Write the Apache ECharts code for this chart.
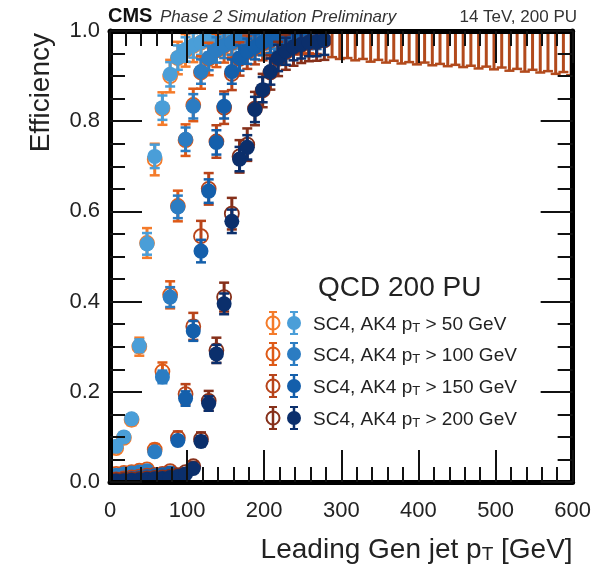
<!DOCTYPE html>
<html><head><meta charset="utf-8">
<script src="https://cdn.jsdelivr.net/npm/echarts@6/dist/echarts.min.js"></script>
<style>html,body{margin:0;padding:0;background:#fff}#c{width:594px;height:566px}</style>
</head><body><div id="c"></div>
<script>
// ---------------- data ----------------
const xTicks = [0, 100, 200, 300, 400, 500, 600];
const yTicks = [0.0, 0.2, 0.4, 0.6, 0.8, 1.0];
const legendLabels = ['50', '100', '150', '200'];

// AK4 pT > 50 GeV
const xs1  = [8,18,28,38,48,58,68,78,88,98,108,118,128,138,148,158,168,178,188,198,208,218,228,238,248];
const ak1  = [0.079,0.100,0.140,0.302,0.528,0.722,0.830,0.904,0.941,0.959,0.968,0.975,0.980,0.983,0.985,0.988,0.990,0.990,0.991,0.992,0.992,0.993,0.993,0.994,0.994];
const sc1  = [0.075,0.098,0.138,0.300,0.530,0.715,0.828,0.900,0.940,0.957,0.967,0.974,0.978,0.982,0.985,0.987,0.989,0.990,0.990,0.991,0.992,0.992,0.993,0.993,0.994];
const esc1 = [0.010,0.010,0.012,0.020,0.033,0.035,0.036,0.036,0.036,0.036,0.036,0.036,0.037,0.037,0.037,0.038,0.038,0.038,0.039,0.040,0.040,0.040,0.041,0.042,0.042];
const eak1 = [0.006,0.006,0.008,0.014,0.024,0.026,0.027,0.027,0.027,0.027,0.027,0.028,0.028,0.028,0.028,0.029,0.029,0.029,0.030,0.030,0.030,0.031,0.031,0.032,0.032];

// pT > 100 GeV
const xs2  = [8,18,28,38,48,58,68,78,88,98,108,118,128,138,148,158,168,178,188,198,208,218,228,238,248,258];
const ak2  = [0.015,0.018,0.020,0.022,0.025,0.067,0.233,0.410,0.610,0.760,0.833,0.910,0.940,0.958,0.968,0.975,0.980,0.983,0.986,0.988,0.990,0.990,0.991,0.992,0.992,0.993];
const sc2  = [0.018,0.020,0.022,0.025,0.028,0.072,0.245,0.415,0.612,0.758,0.836,0.908,0.938,0.957,0.967,0.974,0.979,0.983,0.985,0.987,0.989,0.990,0.991,0.991,0.992,0.993];
const esc2 = [0.008,0.008,0.008,0.008,0.009,0.012,0.020,0.030,0.034,0.035,0.036,0.036,0.036,0.037,0.037,0.037,0.038,0.038,0.038,0.039,0.039,0.040,0.040,0.041,0.041,0.042];
const eak2 = [0.005,0.005,0.005,0.005,0.006,0.008,0.014,0.022,0.025,0.026,0.027,0.027,0.027,0.028,0.028,0.028,0.028,0.029,0.029,0.029,0.030,0.030,0.030,0.031,0.031,0.032];

// pT > 150 GeV
const xs3  = [8,18,28,38,48,58,68,78,88,98,108,118,128,138,148,158,168,178,188,198,208,218,228,238,248,258,268];
const ak3  = [0.004,0.006,0.008,0.010,0.012,0.014,0.016,0.020,0.092,0.185,0.335,0.512,0.645,0.753,0.833,0.910,0.940,0.955,0.965,0.975,0.980,0.984,0.986,0.988,0.990,0.991,0.992];
const sc3  = [0.006,0.008,0.010,0.012,0.014,0.016,0.018,0.024,0.098,0.195,0.345,0.545,0.650,0.755,0.830,0.905,0.938,0.953,0.964,0.973,0.979,0.983,0.986,0.988,0.989,0.990,0.991];
const esc3 = [0.006,0.006,0.006,0.007,0.007,0.007,0.008,0.009,0.014,0.022,0.030,0.034,0.035,0.036,0.036,0.036,0.037,0.037,0.038,0.038,0.039,0.039,0.040,0.040,0.041,0.041,0.042];
const eak3 = [0.004,0.004,0.004,0.005,0.005,0.005,0.006,0.006,0.010,0.016,0.022,0.025,0.026,0.027,0.027,0.027,0.028,0.028,0.028,0.029,0.029,0.029,0.030,0.030,0.031,0.031,0.032];

// pT > 200 GeV
const xs4  = [8,18,28,38,48,58,68,78,88,98,108,118,128,138,148,158,168,178,188,198,208,218,228,238,248,258,268,278];
const ak4  = [0.002,0.003,0.004,0.005,0.006,0.007,0.008,0.010,0.012,0.018,0.030,0.090,0.174,0.284,0.395,0.578,0.716,0.742,0.826,0.870,0.910,0.940,0.955,0.965,0.970,0.975,0.976,0.980];
const sc4  = [0.004,0.005,0.006,0.007,0.008,0.009,0.010,0.012,0.015,0.022,0.035,0.095,0.180,0.292,0.410,0.595,0.722,0.748,0.828,0.868,0.908,0.938,0.953,0.963,0.969,0.974,0.976,0.979];
const esc4 = [0.005,0.005,0.005,0.005,0.005,0.006,0.006,0.006,0.007,0.008,0.010,0.015,0.022,0.028,0.032,0.035,0.036,0.036,0.037,0.037,0.038,0.038,0.039,0.040,0.040,0.041,0.042,0.043];
const eak4 = [0.003,0.003,0.003,0.003,0.003,0.004,0.004,0.004,0.005,0.006,0.007,0.011,0.016,0.020,0.023,0.026,0.027,0.027,0.028,0.028,0.029,0.029,0.030,0.030,0.031,0.031,0.032,0.033];

// high-pT plateau (SC4): efficiency at 1.0, lower error bars
const xsHi = [288,298,308,318,328,338,348,358,368,378,388,398,408,418,428,438,448,458,468,478,488,498,508,518,528,538,548,558,568,578,588,598];
const scHi = [1.0,1.0,1.0,1.0,1.0,1.0,1.0,1.0,1.0,1.0,1.0,1.0,1.0,1.0,1.0,1.0,1.0,1.0,1.0,1.0,1.0,1.0,1.0,1.0,1.0,1.0,1.0,1.0,1.0,1.0,1.0,1.0];
const eHi  = [0.058,0.062,0.060,0.065,0.062,0.068,0.064,0.070,0.066,0.072,0.069,0.074,0.070,0.076,0.073,0.078,0.075,0.080,0.077,0.083,0.079,0.085,0.081,0.088,0.084,0.090,0.086,0.092,0.089,0.095,0.091,0.098];

// ---------------- styles ----------------
const FONT = "'Liberation Sans', Arial, Helvetica, sans-serif";
const SC_COL = ['#f47b2a', '#de5a17', '#b8441a', '#86301a'];
const AK_COL = ['#4a9ed8', '#2b7cc2', '#145fab', '#0b2f6c'];
const HI_COL = '#b24a1c';

function errSeries(name, xs, ys, es, color, filled) {
  return {
    type: 'custom', name, clip: true,
    data: xs.map((x, i) => [x, ys[i], es[i]]),
    renderItem(params, api) {
      const x = api.value(0), y = api.value(1), e = api.value(2);
      const p = api.coord([x, y]);
      const lo = api.coord([x, y - e]);
      const hi = api.coord([x, y + e]);
      const cw = 5;
      const ch = [
        {type: 'line', shape: {x1: p[0], y1: lo[1], x2: p[0], y2: hi[1]}, style: {stroke: color, lineWidth: 3}},
        {type: 'line', shape: {x1: p[0] - cw, y1: lo[1], x2: p[0] + cw, y2: lo[1]}, style: {stroke: color, lineWidth: 2.5}},
        {type: 'line', shape: {x1: p[0] - cw, y1: hi[1], x2: p[0] + cw, y2: hi[1]}, style: {stroke: color, lineWidth: 2.5}}
      ];
      if (y < 1) {
        ch.push(filled
          ? {type: 'circle', shape: {cx: p[0], cy: p[1], r: 7.5}, style: {fill: color}}
          : {type: 'circle', shape: {cx: p[0], cy: p[1], r: 7}, style: {fill: 'none', stroke: color, lineWidth: 1.8}});
      }
      return {type: 'group', children: ch};
    }
  };
}

const series = [
  errSeries('SC4 >50', xs1, sc1, esc1, SC_COL[0], false),
  errSeries('AK4 >50', xs1, ak1, eak1, AK_COL[0], true),
  errSeries('SC4 >100', xs2, sc2, esc2, SC_COL[1], false),
  errSeries('AK4 >100', xs2, ak2, eak2, AK_COL[1], true),
  errSeries('SC4 >150', xs3, sc3, esc3, SC_COL[2], false),
  errSeries('AK4 >150', xs3, ak3, eak3, AK_COL[2], true),
  errSeries('SC4 >200', xs4, sc4, esc4, SC_COL[3], false),
  errSeries('AK4 >200', xs4, ak4, eak4, AK_COL[3], true),
  errSeries('SC4 high pT', xsHi, scHi, eHi, HI_COL, false)
];

const axisBase = {
  type: 'value', z: 10,
  axisLine: {show: true, onZero: false, lineStyle: {color: '#000', width: 5}},
  axisTick: {show: true, inside: true, length: 32, lineStyle: {color: '#111', width: 2}},
  minorTick: {show: true, length: 15, lineStyle: {color: '#111', width: 2}},
  splitLine: {show: false}, minorSplitLine: {show: false}
};

const xLabel = {fontSize: 22, color: '#222', fontFamily: FONT, margin: 18};
const yLabel = {fontSize: 22, color: '#222', fontFamily: FONT, margin: 10, formatter: v => v.toFixed(1)};

// legend graphics
const legendRowY = [323, 354, 386, 418];
const legendEls = [];
legendLabels.forEach((lab, i) => {
  const y = legendRowY[i];
  const oc = SC_COL[i], bc = AK_COL[i];
  legendEls.push(
    {type: 'line', shape: {x1: 273, y1: y - 11, x2: 273, y2: y + 11}, style: {stroke: oc, lineWidth: 2.5}},
    {type: 'line', shape: {x1: 269, y1: y - 11, x2: 277, y2: y - 11}, style: {stroke: oc, lineWidth: 2}},
    {type: 'line', shape: {x1: 269, y1: y + 11, x2: 277, y2: y + 11}, style: {stroke: oc, lineWidth: 2}},
    {type: 'circle', shape: {cx: 273, cy: y, r: 6.5}, style: {fill: 'none', stroke: oc, lineWidth: 2}},
    {type: 'line', shape: {x1: 294, y1: y - 11, x2: 294, y2: y + 11}, style: {stroke: bc, lineWidth: 2.5}},
    {type: 'line', shape: {x1: 290, y1: y - 11, x2: 298, y2: y - 11}, style: {stroke: bc, lineWidth: 2}},
    {type: 'line', shape: {x1: 290, y1: y + 11, x2: 298, y2: y + 11}, style: {stroke: bc, lineWidth: 2}},
    {type: 'circle', shape: {cx: 294, cy: y, r: 7}, style: {fill: bc}},
    {type: 'text', x: 313, y: y, style: {
      text: '{a|SC4, AK4 p}{s|T}{a| > ' + lab + ' GeV}', verticalAlign: 'middle',
      rich: {
        a: {fontSize: 19, fontFamily: FONT, fill: '#222', verticalAlign: 'bottom', lineHeight: 23},
        s: {fontSize: 13, fontFamily: FONT, fill: '#222', verticalAlign: 'bottom', lineHeight: 13}
      }}}
  );
});

const option = {
  animation: false,
  backgroundColor: '#fff',
  grid: {left: 110, right: 18, top: 31, bottom: 84, containLabel: false},
  xAxis: [
    Object.assign({}, axisBase, {
      position: 'bottom', min: xTicks[0], max: xTicks[xTicks.length - 1], interval: 100,
      minorTick: Object.assign({}, axisBase.minorTick, {splitNumber: 5}),
      axisLabel: xLabel,
      name: '{a|Leading Gen jet p}{s|T}{a| [GeV]}', nameLocation: 'end', nameGap: 0,
      nameTextStyle: {align: 'right', verticalAlign: 'top', padding: [48, 0, 0, 0],
        rich: {
          a: {fontSize: 28, fontFamily: FONT, color: '#222', verticalAlign: 'bottom', lineHeight: 34},
          s: {fontSize: 19, fontFamily: FONT, color: '#222', verticalAlign: 'bottom', lineHeight: 19}
        }}
    }),
    Object.assign({}, axisBase, {
      position: 'top', min: xTicks[0], max: xTicks[xTicks.length - 1], interval: 100,
      minorTick: Object.assign({}, axisBase.minorTick, {splitNumber: 5}),
      axisLabel: {show: false}
    })
  ],
  yAxis: [
    Object.assign({}, axisBase, {
      position: 'left', min: yTicks[0], max: yTicks[yTicks.length - 1], interval: 0.2,
      minorTick: Object.assign({}, axisBase.minorTick, {splitNumber: 4}),
      axisLabel: yLabel
    }),
    Object.assign({}, axisBase, {
      position: 'right', min: yTicks[0], max: yTicks[yTicks.length - 1], interval: 0.2,
      minorTick: Object.assign({}, axisBase.minorTick, {splitNumber: 4}),
      axisLabel: {show: false}
    })
  ],
  graphic: [
    {type: 'text', x: 108, y: 26, style: {text: 'CMS', fontSize: 20, fontWeight: 'bold', fontFamily: FONT, fill: '#111', verticalAlign: 'bottom'}},
    {type: 'text', x: 160, y: 26, style: {text: 'Phase 2 Simulation Preliminary', fontSize: 17, fontStyle: 'italic', fontFamily: FONT, fill: '#333', verticalAlign: 'bottom'}},
    {type: 'text', x: 577, y: 26, style: {text: '14 TeV, 200 PU', fontSize: 17, fontFamily: FONT, fill: '#333', align: 'right', verticalAlign: 'bottom'}},
    {type: 'text', x: 41, y: 33, rotation: Math.PI / 2, style: {text: 'Efficiency', fontSize: 28, fontFamily: FONT, fill: '#222', align: 'right', verticalAlign: 'middle'}},
    {type: 'text', x: 318, y: 288, style: {text: 'QCD 200 PU', fontSize: 28, fontFamily: FONT, fill: '#222', verticalAlign: 'middle'}},
    {type: 'group', children: legendEls}
  ],
  series: series
};

const chart = echarts.init(document.getElementById('c'), null, {renderer: 'canvas'});
chart.setOption(option);
</script>
</body></html>
